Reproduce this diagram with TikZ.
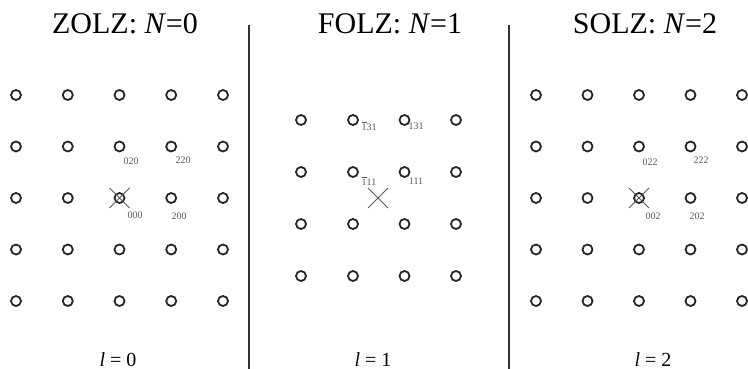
\documentclass[tikz,border=0pt]{standalone}
\usepackage{fontspec}
\setmainfont{Liberation Serif}
\usetikzlibrary{shapes.misc}
\newcommand{\bone}{$\overline{\hbox{1}}$}
\begin{document}
\begin{tikzpicture}[x=1pt,y=-1pt,
  spot/.style={circle,draw=black!85,line width=1.8pt,minimum size=10pt,inner sep=0pt},
  xmark/.style={cross out,draw=black!65,line width=1pt,minimum size=19pt,inner sep=0pt},
  idx/.style={font=\fontsize{10}{10}\selectfont,text=black!65,inner sep=0pt},
  ttl/.style={font=\fontsize{30}{30}\selectfont,inner sep=0pt,anchor=base},
  lev/.style={font=\fontsize{20}{20}\selectfont,inner sep=0pt,anchor=base},
  sepline/.style={line width=2pt,draw=black!80}]
\useasboundingbox (0,0) rectangle (748,369);
% separators
\coordinate (s1t) at (248.5,25);
\coordinate (s1b) at (248.5,369);
\coordinate (s2t) at (508.5,25);
\coordinate (s2b) at (508.5,369);
\draw[sepline] (s1t) -- (s1b);
\draw[sepline] (s2t) -- (s2b);
% titles
\node[ttl] (t0) at (125,34) {ZOLZ: \textit{N}=0};
\node[ttl] (t1) at (390,34) {FOLZ: \textit{N}=1};
\node[ttl] (t2) at (645,34) {SOLZ: \textit{N}=2};
% level labels
\node[lev] (l0) at (118,366) {\textit{l} = 0};
\node[lev] (l1) at (373,366) {\textit{l} = 1};
\node[lev] (l2) at (653,366) {\textit{l} = 2};
% left grid
\foreach \x [count=\i] in {16,67.8,119.5,171.2,223}
  \foreach \y [count=\j] in {95,146.5,198,249.5,301}
    \node[spot] (L\i\j) at (\x,\y) {};
% middle grid
\foreach \x [count=\i] in {301,353,404.5,456}
  \foreach \y [count=\j] in {120,172,224,276}
    \node[spot] (M\i\j) at (\x,\y) {};
% right grid
\foreach \x [count=\i] in {536,587.5,639,690.5,742}
  \foreach \y [count=\j] in {95,146.5,198,249.5,301}
    \node[spot] (R\i\j) at (\x,\y) {};
% cross marks
\node[xmark] (x0) at (L33) {};
\node[xmark] (x1) at (378,198) {};
\node[xmark] (x2) at (R33) {};
% indices
\node[idx] (i020) at (131,161) {020};
\node[idx] (i220) at (183,160) {220};
\node[idx] (i000) at (135,215) {000};
\node[idx] (i200) at (179,216) {200};
\node[idx] (i131b) at (369,126) {\bone31};
\node[idx] (i131) at (416,126) {131};
\node[idx] (i111b) at (369,181) {\bone11};
\node[idx] (i111) at (416,181) {111};
\node[idx] (i022) at (650,162) {022};
\node[idx] (i222) at (701,160) {222};
\node[idx] (i002) at (653,216) {002};
\node[idx] (i202) at (697,216) {202};
\end{tikzpicture}
\end{document}
